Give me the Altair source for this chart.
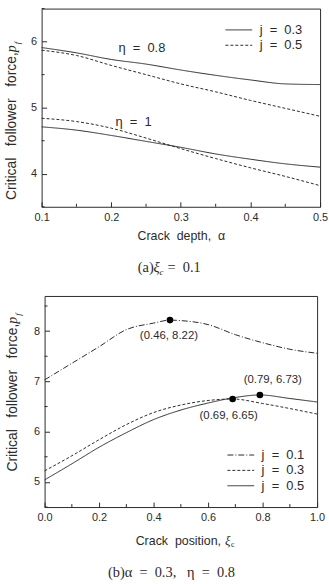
import altair as alt
import pandas as pd

SANS = "Liberation Sans"
SERIF = "Liberation Serif"
INK = "#2b2b2b"
S = "\u00a0"  # non-collapsing space

# ---------------- panel (a): xi_c = 0.1 ----------------
alpha_a = [0.10, 0.15, 0.20, 0.25, 0.30, 0.35, 0.40, 0.45, 0.50]
pf_eta08_j03 = [5.91, 5.83, 5.73, 5.66, 5.57, 5.49, 5.42, 5.36, 5.35]
pf_eta08_j05 = [5.87, 5.79, 5.64, 5.50, 5.36, 5.24, 5.11, 4.99, 4.87]
pf_eta1_j03 = [4.71, 4.66, 4.58, 4.49, 4.40, 4.30, 4.22, 4.15, 4.10]
pf_eta1_j05 = [4.84, 4.79, 4.69, 4.54, 4.38, 4.23, 4.09, 3.96, 3.82]
eta_labels = ["η" + S * 2 + "=" + S * 2 + "0.8", "η" + S * 2 + "=" + S * 2 + "1"]
eta_label_x = [0.244, 0.232]
eta_label_y = [5.90, 4.79]
a_x_major = [0.1, 0.2, 0.3, 0.4, 0.5]
a_x_minor = [0.15, 0.25, 0.35, 0.45]
a_y_major = [4, 5, 6]
a_y_minor = [3.5, 4.5, 5.5, 6.5]

# ---------------- panel (b): alpha = 0.3, eta = 0.8 ----------------
xi_j01 = [0.0, 0.1, 0.2, 0.3, 0.4, 0.46, 0.5, 0.6, 0.7, 0.8, 0.9, 1.0]
pf_j01 = [7.03, 7.36, 7.69, 8.03, 8.16, 8.22, 8.21, 8.13, 7.93, 7.77, 7.64, 7.56]
xi_j03 = [0.0, 0.1, 0.2, 0.3, 0.4, 0.5, 0.6, 0.69, 0.8, 0.9, 1.0]
pf_j03 = [5.22, 5.52, 5.84, 6.14, 6.38, 6.53, 6.62, 6.65, 6.56, 6.46, 6.35]
xi_j05 = [0.0, 0.1, 0.2, 0.3, 0.4, 0.5, 0.6, 0.7, 0.79, 0.9, 1.0]
pf_j05 = [5.04, 5.36, 5.69, 5.98, 6.24, 6.43, 6.57, 6.68, 6.73, 6.66, 6.59]
peak_xi = [0.46, 0.69, 0.79]
peak_pf = [8.22, 6.65, 6.73]
peak_text = ["(0.46, 8.22)", "(0.69, 6.65)", "(0.79, 6.73)"]
peak_dx = [-1, -4, 13]
peak_dy = [16, 17, -15]
b_x_major = [0.0, 0.2, 0.4, 0.6, 0.8, 1.0]
b_x_minor = [0.1, 0.3, 0.5, 0.7, 0.9]
b_y_major = [5, 6, 7, 8]
b_y_minor = [4.5, 5.5, 6.5, 7.5, 8.5]

WA, HA = 281, 200
WB, HB = 275, 213
YTITLE = "Critical" + S * 3 + "follower" + S * 3 + "force," + S


def lbl(text, x, y, **kw):
    props = dict(font=SANS, fontSize=13, color=INK)
    props.update(kw)
    return alt.Chart(pd.DataFrame({"t": [text]})).mark_text(**props).encode(
        text="t:N", x=alt.value(x), y=alt.value(y))


def minor_ticks(xf, yf, xv, yv, H):
    return [
        alt.Chart(pd.DataFrame({xf: xv})).mark_rule(color=INK, strokeWidth=1).encode(
            x=alt.X(f"{xf}:Q"), y=alt.value(H - 3), y2=alt.value(H)),
        alt.Chart(pd.DataFrame({yf: yv})).mark_rule(color=INK, strokeWidth=1).encode(
            y=alt.Y(f"{yf}:Q"), x=alt.value(0), x2=alt.value(3)),
    ]


def xaxis(vals, title, title_pad):
    return alt.Axis(values=vals, format=".1f", labelFlush=False, offset=-5, ticks=True, tickSize=5,
                    tickColor=INK, tickWidth=1, labelPadding=5, title=title, titlePadding=title_pad)


def yaxis(vals):
    return alt.Axis(values=vals, format="d", offset=-5, ticks=True, tickSize=5, tickColor=INK,
                    tickWidth=1, labelPadding=5, title="")


def legend(x, y):
    return alt.Legend(title=None, orient="none", legendX=x, legendY=y,
                      symbolType="stroke", symbolSize=729, clipHeight=15,
                      symbolStrokeWidth=1, symbolStrokeColor=INK,
                      labelFontSize=13, labelFont=SANS, labelColor=INK,
                      labelOffset=7, rowPadding=0.5, padding=0,
                      labelExpr="'j" + S * 2 + "=" + S * 2 + "' + datum.label")


# ---- panel (a) ----
rows = []
for eta, j, ys in [("0.8", "0.3", pf_eta08_j03), ("0.8", "0.5", pf_eta08_j05),
                   ("1", "0.3", pf_eta1_j03), ("1", "0.5", pf_eta1_j05)]:
    for x, y in zip(alpha_a, ys):
        rows.append(dict(alpha=x, pf=y, eta=eta, j=j, series=eta + "_" + j))
dfa = pd.DataFrame(rows)

xsa = alt.Scale(domain=[0.1, 0.5], nice=False, zero=False)
ysa = alt.Scale(domain=[3.5, 6.5], nice=False, zero=False)

lines_a = alt.Chart(dfa).mark_line(interpolate="monotone", strokeWidth=1, color=INK).encode(
    x=alt.X("alpha:Q", scale=xsa, axis=xaxis(a_x_major, "Crack" + S * 2 + "depth," + S * 2 + "α", 7)),
    y=alt.Y("pf:Q", scale=ysa, axis=yaxis(a_y_major)),
    strokeDash=alt.StrokeDash("j:N", scale=alt.Scale(domain=["0.3", "0.5"], range=[[1, 0], [3, 2]]),
                              legend=legend(185, 14)),
    detail="series:N",
)

eta_df = pd.DataFrame({"alpha": eta_label_x, "pf": eta_label_y, "t": eta_labels})
eta_text = alt.Chart(eta_df).mark_text(font=SANS, fontSize=13, color=INK).encode(
    x=alt.X("alpha:Q"), y=alt.Y("pf:Q"), text="t:N")

cap_a = [
    lbl("(a)", 97, HA + 62, font=SERIF, fontSize=14.5, align="left", baseline="middle"),
    lbl("ξ", 113, HA + 62, font=SERIF, fontSize=14.5, fontStyle="italic", align="left", baseline="middle"),
    lbl("c", 119, HA + 66, font=SERIF, fontSize=9, fontStyle="italic", align="left", baseline="middle"),
    lbl("=" + S * 2 + "0.1", 127, HA + 62, font=SERIF, fontSize=14.5, align="left", baseline="middle"),
]
ytitle_a = [
    lbl(YTITLE, -26, 44, fontSize=14, angle=270, align="right", baseline="alphabetic"),
    lbl("p", -26, 44, font=SERIF, fontSize=14, fontStyle="italic", angle=270, align="left", baseline="alphabetic"),
    lbl("f", -22, 36, font=SERIF, fontSize=9, fontStyle="italic", angle=270, align="left", baseline="alphabetic"),
]

panel_a = alt.layer(lines_a, eta_text, *minor_ticks("alpha", "pf", a_x_minor, a_y_minor, HA),
                    *cap_a, *ytitle_a).properties(width=WA, height=HA)

# ---- panel (b) ----
rows = []
for j, xs, ys in [("0.1", xi_j01, pf_j01), ("0.3", xi_j03, pf_j03), ("0.5", xi_j05, pf_j05)]:
    for x, y in zip(xs, ys):
        rows.append(dict(xi=x, pf=y, j=j))
dfb = pd.DataFrame(rows)

xsb = alt.Scale(domain=[0.0, 1.0], nice=False, zero=False)
ysb = alt.Scale(domain=[4.5, 8.7], nice=False, zero=False)

lines_b = alt.Chart(dfb).mark_line(interpolate="monotone", strokeWidth=1, color=INK).encode(
    x=alt.X("xi:Q", scale=xsb, axis=xaxis(b_x_major, "", 0)),
    y=alt.Y("pf:Q", scale=ysb, axis=yaxis(b_y_major)),
    strokeDash=alt.StrokeDash("j:N", scale=alt.Scale(domain=["0.1", "0.3", "0.5"],
                                                     range=[[6, 2, 1, 2], [3, 2], [1, 0]]),
                              legend=legend(184, 153)),
)

peak_df = pd.DataFrame({"xi": peak_xi, "pf": peak_pf, "t": peak_text})
peaks = alt.Chart(peak_df).mark_circle(size=45, color="black", opacity=1).encode(
    x=alt.X("xi:Q"), y=alt.Y("pf:Q"))
peak_labels = []
for i in range(3):
    peak_labels.append(
        alt.Chart(peak_df.iloc[[i]]).mark_text(font=SANS, fontSize=11.5, color=INK,
                                               dx=peak_dx[i], dy=peak_dy[i]).encode(
            x=alt.X("xi:Q"), y=alt.Y("pf:Q"), text="t:N"))

xtitle_b = [
    lbl("Crack" + S * 2 + "position," + S * 2, 178, HB + 34, fontSize=12.5, align="right", baseline="middle"),
    lbl("ξ", 182, HB + 34, font=SERIF, fontSize=13, fontStyle="italic", align="left", baseline="middle"),
    lbl("c", 188, HB + 38, font=SERIF, fontSize=8, align="left", baseline="middle"),
]
cap_b = [lbl("(b)α" + S * 2 + "=" + S * 2 + "0.3," + S * 3 + "η" + S * 2 + "=" + S * 2 + "0.8",
             128, HB + 67, font=SERIF, fontSize=14.5, align="center", baseline="middle")]
ytitle_b = [
    lbl(YTITLE, -28, 28, fontSize=14, angle=270, align="right", baseline="alphabetic"),
    lbl("p", -28, 28, font=SERIF, fontSize=14, fontStyle="italic", angle=270, align="left", baseline="alphabetic"),
    lbl("f", -24, 20, font=SERIF, fontSize=9, fontStyle="italic", angle=270, align="left", baseline="alphabetic"),
]

panel_b = alt.layer(lines_b, peaks, *peak_labels,
                    *minor_ticks("xi", "pf", b_x_minor, b_y_minor, HB),
                    *xtitle_b, *cap_b, *ytitle_b).properties(width=WB, height=HB)

chart = alt.vconcat(panel_a, panel_b, spacing=90, bounds="flush", center=True).resolve_scale(
    strokeDash="independent", x="independent", y="independent"
).resolve_legend(strokeDash="independent").properties(
    padding={"left": 4, "top": 5, "right": 0, "bottom": 2}
).configure_view(stroke=INK, strokeWidth=1).configure_axis(
    domain=False, grid=False, labelFont=SANS, labelFontSize=11, labelColor=INK,
    titleFont=SANS, titleFontSize=12.5, titleFontWeight="normal", titleColor=INK
).configure_legend(labelLimit=0)

chart.save("out.html", embed_options={"renderer": "svg", "actions": False})
